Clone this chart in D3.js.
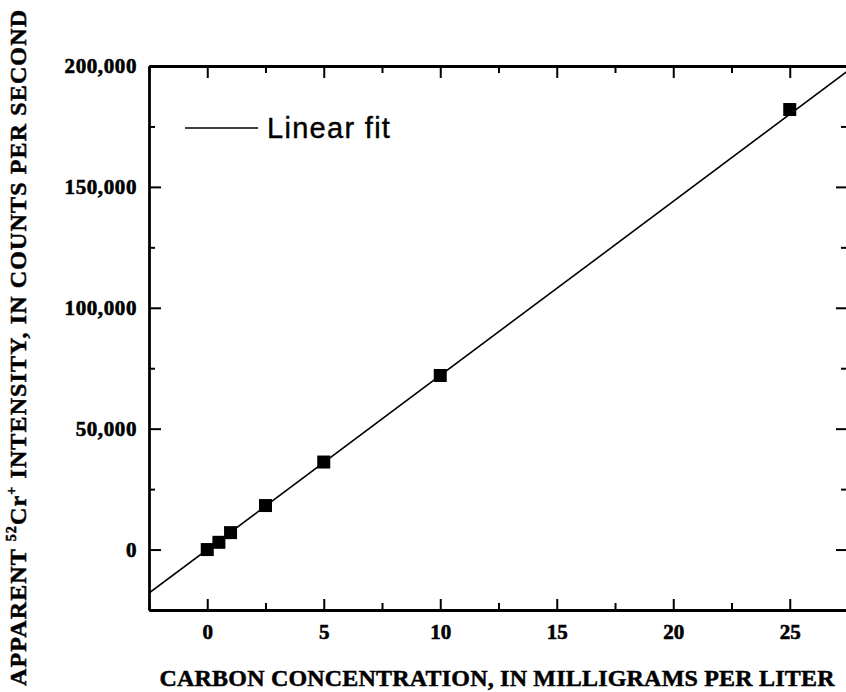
<!DOCTYPE html>
<html>
<head>
<meta charset="utf-8">
<script src="https://cdn.jsdelivr.net/npm/d3@7"></script>
<style>
  body { margin: 0; background: #fff; }
  .tick text { font-family: "Liberation Serif", "Times New Roman", serif; font-weight: bold; }
</style>
</head>
<body>
<div id="chart"></div>
<script>
// data
var carbon = [0, 0.5, 1, 2.5, 5, 10, 25];
var intensity = [0, 3000, 7000, 18200, 36200, 72000, 182000];
var fitSlope = 7200;
var fitIntercept = 0;
var xTicks = [0, 5, 10, 15, 20, 25];
var yTicks = [0, 50000, 100000, 150000, 200000];

var svgWidth = 846;
var svgHeight = 692;
var margin = { top: 66, right: -2, bottom: 82, left: 149 };
var width = svgWidth - margin.left - margin.right;
var height = svgHeight - margin.top - margin.bottom;

var svg = d3.select("#chart")
  .append("svg")
  .attr("width", svgWidth)
  .attr("height", svgHeight);

var chartGroup = svg.append("g")
  .attr("transform", `translate(${margin.left}, ${margin.top})`);

var xScale = d3.scaleLinear().domain([-2.5, 27.5]).range([0, width]);
var yScale = d3.scaleLinear().domain([-25000, 200000]).range([height, 0]);

var fmt = d3.format(",");
var xMinor = d3.range(-2.5, 27.6, 2.5).filter(d => xTicks.indexOf(d) < 0);
var yMinor = d3.range(-25000, 200001, 25000).filter(d => yTicks.indexOf(d) < 0);

// clip for the fit line
svg.append("defs").append("clipPath").attr("id", "clip")
  .append("rect").attr("width", width).attr("height", height);

// fit line
var fitLine = d3.line()
  .x(d => xScale(d))
  .y(d => yScale(fitSlope * d + fitIntercept));
chartGroup.append("path")
  .datum(xScale.domain())
  .attr("clip-path", "url(#clip)")
  .attr("d", fitLine)
  .attr("fill", "none")
  .attr("stroke", "#000")
  .attr("stroke-width", 1.6);

// axes: major ticks labelled, minor ticks short, all pointing inward
function styleAxis(g) {
  g.select(".domain").attr("stroke-width", 2.8).attr("stroke", "#000");
  g.selectAll(".tick line").attr("stroke-width", 2).attr("stroke", "#000");
}

var bottomAxis = chartGroup.append("g").attr("transform", `translate(0, ${height})`)
  .call(d3.axisBottom(xScale).tickValues(xTicks).tickSizeInner(-11).tickSizeOuter(0).tickPadding(14));
bottomAxis.selectAll(".tick text").attr("font-size", 21).attr("fill", "#000")
  .attr("stroke", "#000").attr("stroke-width", 0.6);
styleAxis(bottomAxis);
chartGroup.append("g").attr("transform", `translate(0, ${height})`)
  .call(d3.axisBottom(xScale).tickValues(xMinor).tickSize(-7).tickFormat(""))
  .call(g => g.select(".domain").remove())
  .call(styleAxis);

var leftAxis = chartGroup.append("g")
  .call(d3.axisLeft(yScale).tickValues(yTicks).tickSizeInner(-12).tickSizeOuter(0).tickPadding(12).tickFormat(fmt));
leftAxis.selectAll(".tick text").attr("font-size", 21).attr("fill", "#000").attr("letter-spacing", 0.6)
  .attr("stroke", "#000").attr("stroke-width", 0.6);
styleAxis(leftAxis);
chartGroup.append("g")
  .call(d3.axisLeft(yScale).tickValues(yMinor).tickSize(-6).tickFormat(""))
  .call(g => g.select(".domain").remove())
  .call(styleAxis);

var topAxis = chartGroup.append("g")
  .call(d3.axisTop(xScale).tickValues(xTicks).tickSizeInner(-12).tickSizeOuter(0).tickFormat(""));
styleAxis(topAxis);
chartGroup.append("g")
  .call(d3.axisTop(xScale).tickValues(xMinor).tickSize(-7).tickFormat(""))
  .call(g => g.select(".domain").remove())
  .call(styleAxis);

var rightAxis = chartGroup.append("g").attr("transform", `translate(${width}, 0)`)
  .call(d3.axisRight(yScale).tickValues(yTicks).tickSizeInner(-12).tickSizeOuter(0).tickFormat(""));
styleAxis(rightAxis);
chartGroup.append("g").attr("transform", `translate(${width}, 0)`)
  .call(d3.axisRight(yScale).tickValues(yMinor).tickSize(-7).tickFormat(""))
  .call(g => g.select(".domain").remove())
  .call(styleAxis);

// data points
chartGroup.selectAll("rect.pt")
  .data(carbon)
  .enter()
  .append("rect")
  .attr("class", "pt")
  .attr("x", d => xScale(d) - 6.5)
  .attr("y", (d, i) => yScale(intensity[i]) - 6.5)
  .attr("width", 13)
  .attr("height", 13)
  .attr("fill", "#000");

// legend
chartGroup.append("line")
  .attr("x1", 36).attr("x2", 109)
  .attr("y1", 62).attr("y2", 62)
  .attr("stroke", "#000").attr("stroke-width", 1.4);
chartGroup.append("text")
  .attr("x", 118).attr("y", 72)
  .attr("font-family", "'Liberation Sans', Arial, sans-serif")
  .attr("font-size", 29)
  .attr("letter-spacing", 1.3)
  .attr("stroke", "#000").attr("stroke-width", 0.4)
  .text("Linear fit");

// axis labels
svg.append("text")
  .attr("x", 497).attr("y", 686)
  .attr("text-anchor", "middle")
  .attr("font-family", "'Liberation Serif', 'Times New Roman', serif")
  .attr("font-weight", "bold")
  .attr("font-size", 24)
  .attr("stroke", "#000").attr("stroke-width", 0.5)
  .attr("textLength", 675)
  .text("CARBON CONCENTRATION, IN MILLIGRAMS PER LITER");

var yLabel = svg.append("text")
  .attr("transform", "translate(26, 348) rotate(-90)")
  .attr("text-anchor", "middle")
  .attr("font-family", "'Liberation Serif', 'Times New Roman', serif")
  .attr("font-weight", "bold")
  .attr("font-size", 24)
  .attr("stroke", "#000").attr("stroke-width", 0.5)
  .attr("textLength", 676);
yLabel.append("tspan").text("APPARENT ");
yLabel.append("tspan").attr("font-size", 14).attr("dy", -10).text("52");
yLabel.append("tspan").attr("dy", 10).text("Cr");
yLabel.append("tspan").attr("font-size", 14).attr("dy", -10).text("+");
yLabel.append("tspan").attr("dy", 10).text(" INTENSITY, IN COUNTS PER SECOND");
</script>
</body>
</html>
